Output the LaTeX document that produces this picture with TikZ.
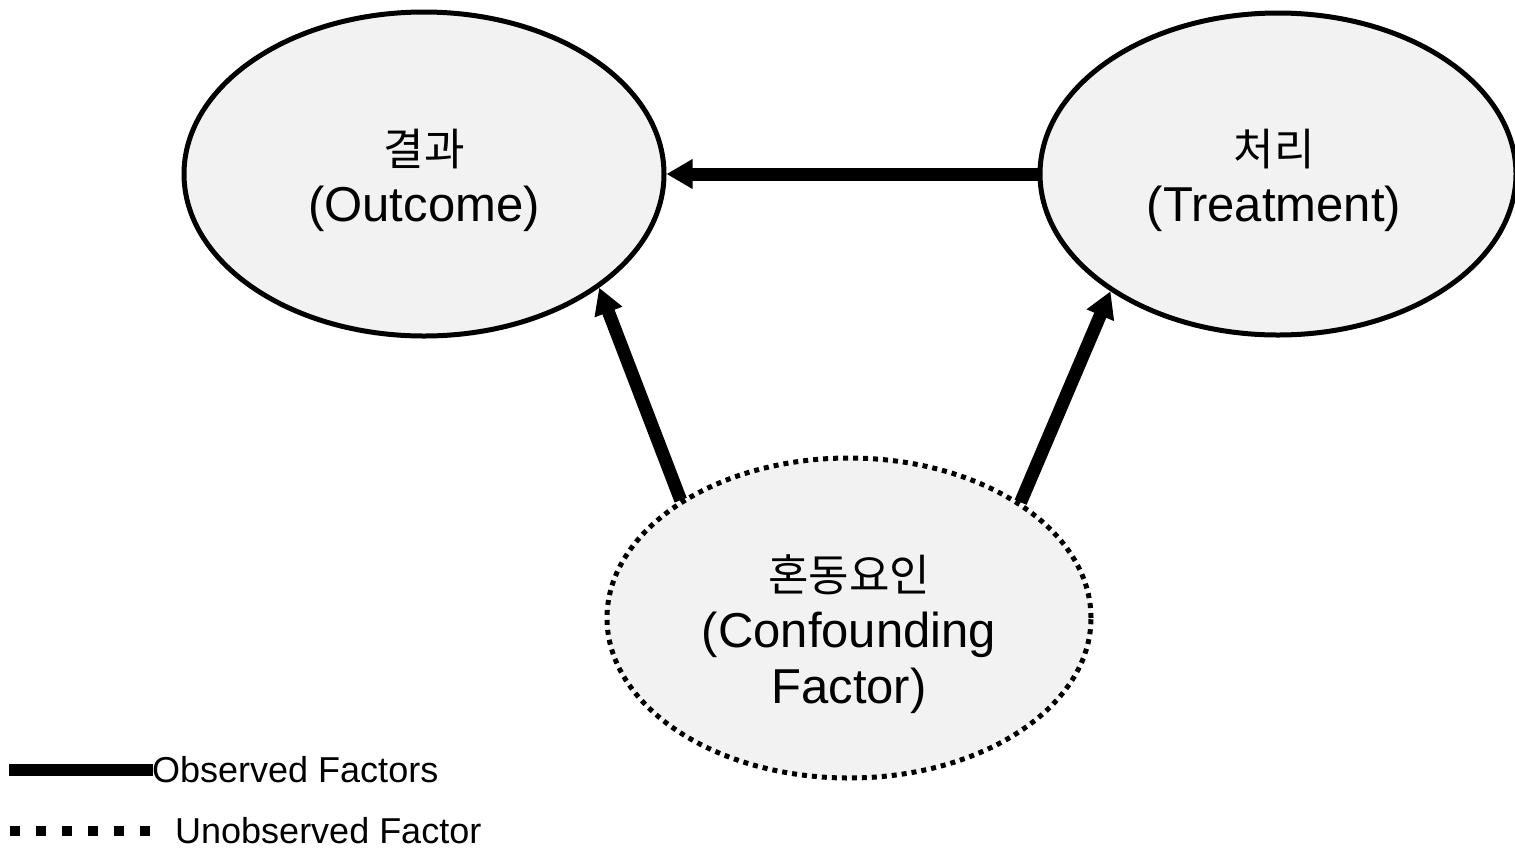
\documentclass[tikz,border=0pt]{standalone}
\usepackage{fontspec}
\setmainfont{Liberation Sans}
\newfontfamily\kr{Noto Sans CJK KR}
\usetikzlibrary{shapes.geometric,arrows.meta}
\definecolor{nodefill}{HTML}{F2F2F2}
\tikzset{
  oval/.style={ellipse, draw=black, fill=nodefill, line width=5pt, inner sep=0pt},
  dotoval/.style={oval, dash pattern=on 5pt off 5pt},
  lbl/.style={align=center, font=\fontsize{49}{56}\selectfont, inner sep=0pt},
  kor/.style={},
  arr/.style={line width=13pt, -{Triangle[length=26pt,width=28pt]}},
  legtext/.style={anchor=base west, font=\fontsize{36}{40}\selectfont, inner sep=0pt}
}
\newcommand{\korline}[1]{{\kr\fontsize{44}{56}\selectfont #1}}
\begin{document}
\begin{tikzpicture}[x=1pt,y=-1pt]
\useasboundingbox (0,0) rectangle (1515,847);
\begin{scope}
\clip (0,0) rectangle (1515,847);
\node[oval, minimum width=480pt, minimum height=324pt] (out) at (424,174) {};
\node[oval, minimum width=476pt, minimum height=322pt] (trt) at (1278,174) {};
\node[dotoval, minimum width=484pt, minimum height=320pt] (conf) at (849,618) {};
\end{scope}
\node[lbl] (outl) at (424,180) {\korline{결과}\\(Outcome)};
\node[lbl] (trtl) at (1274,180) {\korline{처리}\\(Treatment)};
\node[lbl] (confl) at (849,634) {\korline{혼동요인}\\(Confounding\\Factor)};
\draw[arr] (trt.west) -- (out.east);
\draw[arr] (conf.145.8) -- (out.-33.6);
\draw[arr] (conf.34) -- (trt.-145.5);
% legend
\coordinate (l1a) at (9,770);
\coordinate (l1b) at (153,770);
\draw[line width=12pt] (l1a) -- (l1b);
\node[legtext] (obs) at (152,782) {Observed Factors};
\coordinate (l2a) at (10,831);
\coordinate (l2b) at (155,831);
\draw[line width=10pt, dash pattern=on 10pt off 16pt] (l2a) -- (l2b);
\node[legtext] (unobs) at (175,843) {Unobserved Factor};
\end{tikzpicture}
\end{document}
